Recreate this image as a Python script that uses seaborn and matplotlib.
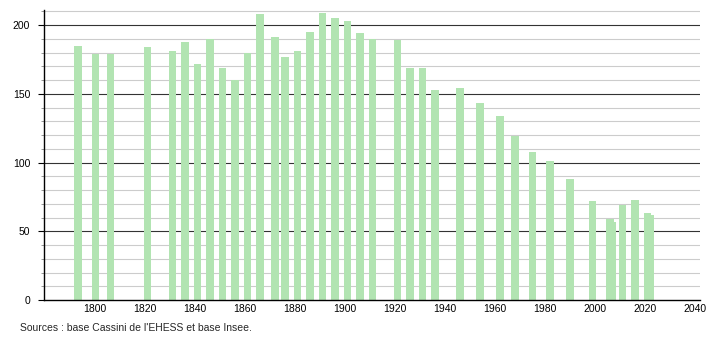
import matplotlib
matplotlib.use("Agg")
import matplotlib.pyplot as plt
import seaborn as sns
import pandas as pd
from matplotlib.ticker import MultipleLocator

years = [1793, 1800, 1806, 1821, 1831, 1836, 1841, 1846, 1851, 1856, 1861, 1866,
         1872, 1876, 1881, 1886, 1891, 1896, 1901, 1906, 1911, 1921, 1926, 1931,
         1936, 1946, 1954, 1962, 1968, 1975, 1982, 1990, 1999, 2006, 2007, 2011,
         2016, 2021, 2022]
population = [185, 179, 179, 184, 181, 188, 172, 190, 169, 160, 180, 208,
              191, 177, 181, 195, 209, 205, 203, 194, 190, 189, 169, 169,
              153, 154, 143, 134, 119, 108, 101, 88, 72, 59, 57, 69,
              73, 63, 62]
xticks = list(range(1800, 2041, 20))
yticks = [0, 50, 100, 150, 200]
source_text = "Sources : base Cassini de l'EHESS et base Insee."

df = pd.DataFrame({"year": years, "pop": population})

sns.set_theme(style="white")
plt.rcParams["font.family"] = ["Liberation Sans", "DejaVu Sans"]

fig = plt.figure(figsize=(7.1, 3.4), dpi=100)
ax = fig.add_axes([0.062, 0.1176, 0.924, 0.853])

# grid
for v in range(10, 211, 10):
    if v % 50 == 0:
        ax.axhline(v, color="#333333", lw=0.8, zorder=0)
    else:
        ax.axhline(v, color="#cccccc", lw=0.8, zorder=0)

sns.barplot(data=df, x="year", y="pop", native_scale=True, width=3.0,
            color="#b2e4b2", saturation=1, errorbar=None, linewidth=0,
            ax=ax, zorder=2)

ax.set_xlim(1779.5, 2042)
ax.set_ylim(0, 211)
ax.set_xticks(xticks)
ax.set_xticklabels([str(t) for t in xticks])
ax.set_yticks(yticks)
ax.yaxis.set_minor_locator(MultipleLocator(10))
ax.set_xlabel("")
ax.set_ylabel("")

for s in ["top", "right"]:
    ax.spines[s].set_visible(False)
ax.spines["left"].set_color("black")
ax.spines["bottom"].set_color("black")
ax.spines["left"].set_linewidth(1)
ax.spines["bottom"].set_linewidth(1)

ax.tick_params(axis="both", labelsize=7.5, colors="black")
ax.tick_params(axis="y", which="major", left=True, length=4, width=0.8, pad=6)
ax.tick_params(axis="y", which="minor", left=True, length=2, width=0.6, color="#888888")
ax.tick_params(axis="x", bottom=False, length=0, pad=3)

fig.text(20 / 710, 1 - 328 / 340, source_text, fontsize=7.5, va="center", ha="left")

fig.savefig("out.png", dpi=100)
